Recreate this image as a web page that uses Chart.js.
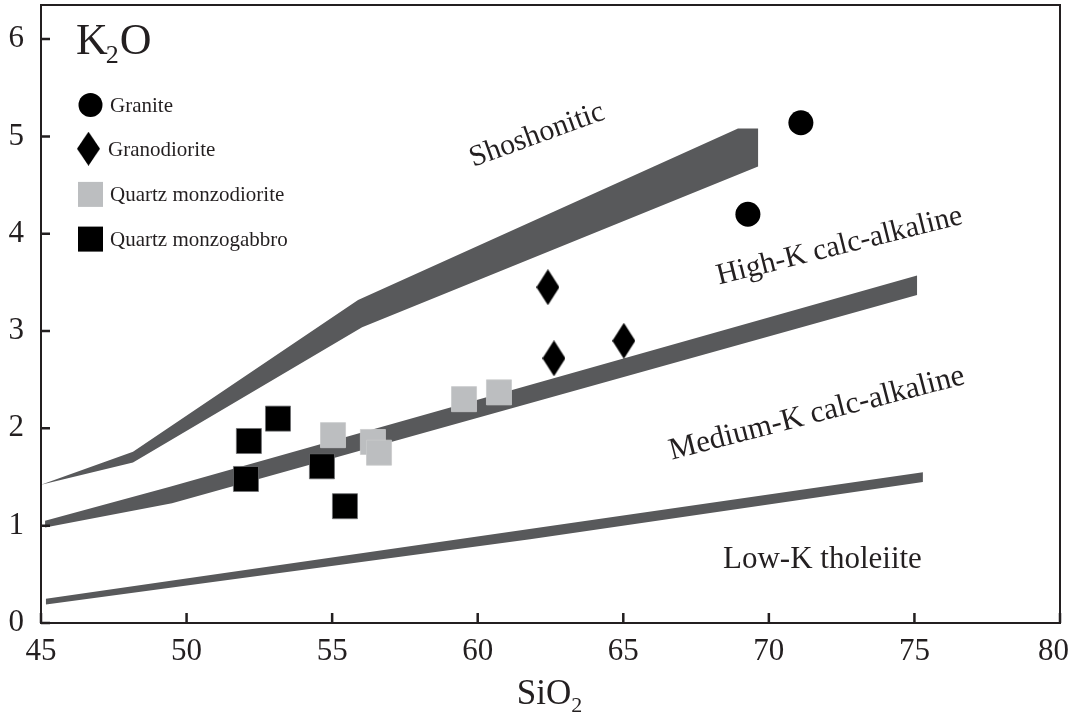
<!DOCTYPE html>
<html>
<head>
<meta charset="utf-8">
<title>K2O vs SiO2</title>
<style>
  html, body { margin: 0; padding: 0; background: #ffffff; }
  canvas { display: block; }
</style>
<script src="https://cdn.jsdelivr.net/npm/chart.js@4.4.0/dist/chart.umd.min.js"></script>
</head>
<body>
<canvas id="chart" width="1069" height="723"></canvas>
<script>
// Axis ticks
const xTicks = [45, 50, 55, 60, 65, 70, 75, 80];
const yTicks = [0, 1, 2, 3, 4, 5, 6];

// Samples (wt%)
const graniteSiO2 = [71.10, 69.28];
const graniteK2O  = [5.14, 4.20];

const granodioriteSiO2 = [62.41, 62.62, 65.02];
const granodioriteK2O  = [3.45, 2.72, 2.90];

const qzMonzodioriteSiO2 = [55.03, 56.40, 56.61, 59.53, 60.73];
const qzMonzodioriteK2O  = [1.93, 1.86, 1.75, 2.30, 2.37];

const qzMonzogabbroSiO2 = [52.14, 53.14, 52.04, 54.65, 55.44];
const qzMonzogabbroK2O  = [1.87, 2.10, 1.48, 1.61, 1.20];

// Field boundary bands (outline traced round each band)
const shoshoniticBandSiO2 = [45.00, 48.16, 55.89, 68.94, 69.63, 69.63, 56.03, 48.16];
const shoshoniticBandK2O  = [1.42, 1.76, 3.32, 5.08, 5.08, 4.69, 3.04, 1.65];

const highKBandSiO2 = [45.14, 49.43, 75.09, 75.09, 49.50, 45.14];
const highKBandK2O  = [1.05, 1.40, 3.57, 3.37, 1.23, 0.98];

const mediumKBandSiO2 = [45.17, 75.29, 75.29, 61.80, 45.17];
const mediumKBandK2O  = [0.25, 1.55, 1.45, 0.86, 0.19];

const INK = '#231f20';
const BAND = '#58595b';
const LIGHT = '#bcbec0';
const SERIF = "'Liberation Serif', 'Times New Roman', serif";

const pairs = (xs, ys) => xs.map((v, i) => ({ x: v, y: ys[i] }));

// Tall diamond marker
function diamondMarker(w, h, color) {
  const c = document.createElement('canvas');
  c.width = w; c.height = h;
  const g = c.getContext('2d');
  g.fillStyle = color;
  g.beginPath();
  g.moveTo(w / 2, 0);
  g.lineTo(w, h / 2);
  g.lineTo(w / 2, h);
  g.lineTo(0, h / 2);
  g.closePath();
  g.fill();
  return c;
}
const diamond = diamondMarker(23, 36, '#000000');

function band(label, xs, ys) {
  return {
    type: 'line',
    label,
    data: pairs(xs, ys),
    order: 5,
    fill: 'shape',
    backgroundColor: BAND,
    borderColor: 'rgba(0,0,0,0)',
    borderWidth: 0,
    pointRadius: 0,
    tension: 0,
    showLine: true,
    isBand: true
  };
}

const datasets = [
  {
    label: 'Granite',
    data: pairs(graniteSiO2, graniteK2O),
    pointStyle: 'circle', pointRadius: 12.5,
    backgroundColor: '#000000', borderWidth: 0, order: 0
  },
  {
    label: 'Granodiorite',
    data: pairs(granodioriteSiO2, granodioriteK2O),
    pointStyle: diamond, pointRadius: 12,
    backgroundColor: '#000000', borderWidth: 0, order: 0
  },
  {
    label: 'Quartz monzodiorite',
    data: pairs(qzMonzodioriteSiO2, qzMonzodioriteK2O),
    pointStyle: 'rect', pointRadius: 17.7,
    backgroundColor: LIGHT, borderColor: '#c9cacc', borderWidth: 0.8, order: 1
  },
  {
    label: 'Quartz monzogabbro',
    data: pairs(qzMonzogabbroSiO2, qzMonzogabbroK2O),
    pointStyle: 'rect', pointRadius: 17.7,
    backgroundColor: '#000000', borderColor: '#6d6e71', borderWidth: 0.8, order: 1
  },
  band('Shoshonitic / High-K boundary', shoshoniticBandSiO2, shoshoniticBandK2O),
  band('High-K / Medium-K boundary', highKBandSiO2, highKBandK2O),
  band('Medium-K / Low-K boundary', mediumKBandSiO2, mediumKBandK2O)
];

// Frame round the plot, inward tick marks and the SiO2 tick labels
const framePlugin = {
  id: 'frame',
  afterDatasetsDraw(chart) {
    const { ctx, chartArea: a, scales: { x, y } } = chart;
    ctx.save();
    ctx.strokeStyle = INK;
    ctx.lineWidth = 2;
    ctx.beginPath();
    ctx.rect(a.left, a.top, a.right - a.left, a.bottom - a.top);
    ctx.stroke();
    ctx.lineWidth = 2.5;
    ctx.beginPath();
    xTicks.forEach(v => {
      const px = x.getPixelForValue(v);
      ctx.moveTo(px, a.bottom);
      ctx.lineTo(px, a.bottom - 10);
    });
    yTicks.forEach(v => {
      const py = y.getPixelForValue(v);
      ctx.moveTo(a.left, py);
      ctx.lineTo(a.left + 9, py);
    });
    ctx.stroke();

    ctx.fillStyle = INK;
    ctx.font = '31px ' + SERIF;
    ctx.textAlign = 'center';
    ctx.textBaseline = 'middle';
    xTicks.forEach(v => {
      const label = String(v);
      const half = ctx.measureText(label).width / 2;
      const px = Math.min(x.getPixelForValue(v), chart.width - half);
      ctx.fillText(label, px, a.bottom + 29);
    });
    ctx.restore();
  }
};

// Field names placed in data units
const fieldNames = [
  { text: 'Shoshonitic', x: 62.04, y: 5.01, angle: -20, size: 30 },
  { text: 'High-K calc-alkaline', x: 72.43, y: 3.87, angle: -14, size: 30 },
  { text: 'Medium-K calc-alkaline', x: 71.65, y: 2.15, angle: -14.5, size: 31 },
  { text: 'Low-K tholeiite', x: 71.84, y: 0.65, angle: 0, size: 31 }
];

function drawWithSubscript(ctx, parts, x, baseline, align) {
  let total = 0;
  parts.forEach(p => { ctx.font = p.size + 'px ' + SERIF; total += ctx.measureText(p.t).width + (p.gap || 0); });
  let cx = align === 'center' ? x - total / 2 : x;
  ctx.textAlign = 'left';
  ctx.textBaseline = 'alphabetic';
  parts.forEach(p => {
    ctx.font = p.size + 'px ' + SERIF;
    ctx.fillText(p.t, cx, baseline + (p.dy || 0));
    cx += ctx.measureText(p.t).width + (p.gap || 0);
  });
}

const textPlugin = {
  id: 'texts',
  afterDraw(chart) {
    const { ctx, chartArea: a, scales: { x, y } } = chart;
    ctx.save();
    ctx.fillStyle = INK;

    // Field names
    ctx.textAlign = 'center';
    ctx.textBaseline = 'middle';
    fieldNames.forEach(f => {
      ctx.save();
      ctx.font = f.size + 'px ' + SERIF;
      ctx.translate(x.getPixelForValue(f.x), y.getPixelForValue(f.y));
      ctx.rotate(f.angle * Math.PI / 180);
      ctx.fillText(f.text, 0, 0);
      ctx.restore();
    });

    // Y axis name inside the frame
    drawWithSubscript(ctx, [
      { t: 'K', size: 44, gap: -2 },
      { t: '2', size: 26, dy: 9, gap: 1 },
      { t: 'O', size: 44 }
    ], a.left + 35, a.top + 49, 'left');

    // X axis name
    drawWithSubscript(ctx, [
      { t: 'SiO', size: 35 },
      { t: '2', size: 22, dy: 8 }
    ], (a.left + a.right) / 2 - 1, 704, 'center');

    ctx.restore();
  }
};

// Legend drawn from the marker datasets
const legendPlugin = {
  id: 'sampleLegend',
  afterDraw(chart) {
    const { ctx, chartArea: a } = chart;
    const items = chart.data.datasets.filter(d => !d.isBand);
    ctx.save();
    items.forEach((d, i) => {
      const cy = a.top + 100 + i * 44.7;
      const cx = a.left + 49.5;
      ctx.fillStyle = d.backgroundColor;
      if (d.pointStyle === 'circle') {
        ctx.beginPath();
        ctx.arc(cx, cy, 12, 0, Math.PI * 2);
        ctx.fill();
      } else if (d.pointStyle === 'rect') {
        ctx.fillRect(cx - 12.5, cy - 12.5, 25, 25);
      } else {
        ctx.drawImage(d.pointStyle, cx - d.pointStyle.width / 2 - 2, cy - d.pointStyle.height / 2, d.pointStyle.width, d.pointStyle.height - 2);
      }
      ctx.fillStyle = INK;
      ctx.font = '21px ' + SERIF;
      ctx.textAlign = 'left';
      ctx.textBaseline = 'middle';
      ctx.fillText(d.label, a.left + (d.pointStyle === diamond ? 67 : 69), cy + 1);
    });
    ctx.restore();
  }
};

new Chart(document.getElementById('chart'), {
  type: 'scatter',
  data: { datasets },
  options: {
    responsive: false,
    animation: false,
    devicePixelRatio: 1,
    events: [],
    layout: { autoPadding: false, padding: { top: 5, right: 9, bottom: 0, left: 0 } },
    plugins: {
      legend: { display: false },
      tooltip: { enabled: false }
    },
    scales: {
      x: {
        type: 'linear',
        min: 45,
        max: 80,
        grid: { display: false, drawTicks: false },
        border: { display: false },
        ticks: { display: false },
        afterBuildTicks: s => { s.ticks = xTicks.map(v => ({ value: v })); },
        afterFit: s => { s.height = 100; }
      },
      y: {
        type: 'linear',
        min: 0,
        max: 6.35,
        grid: { display: false, drawTicks: false },
        border: { display: false },
        ticks: {
          font: { family: SERIF, size: 31 },
          color: INK,
          padding: 17,
          callback: v => String(v)
        },
        afterBuildTicks: s => { s.ticks = yTicks.map(v => ({ value: v })); },
        afterFit: s => { s.width = 41; s.paddingTop = 0; s.paddingBottom = 0; }
      }
    }
  },
  plugins: [framePlugin, textPlugin, legendPlugin]
});
</script>
</body>
</html>
